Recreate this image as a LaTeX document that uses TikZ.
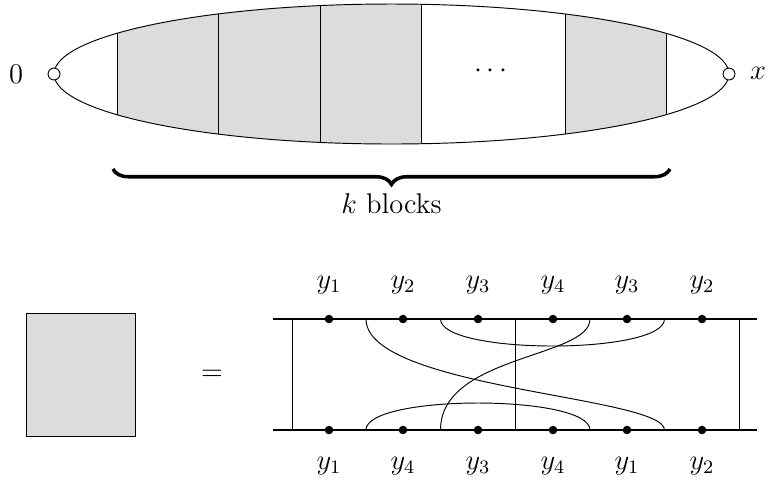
\documentclass[tikz,border=0pt]{standalone}
\usepackage{amsmath,amssymb}
\usepackage{xcolor}
\usepackage{tikz}
\usetikzlibrary{positioning,calc,decorations.pathreplacing}
\definecolor{Shade}{HTML}{DCDCDC}
\tikzset{
  blockfill/.style={fill=Shade},
  rail/.style={line width=.45pt},
  site/.style={circle,fill=black,inner sep=0pt,minimum size=3.6pt},
  endpt/.style={circle,draw,fill=white,inner sep=0pt,minimum size=5pt,line width=.4pt},
  kbrace/.style={decorate,decoration={brace,mirror,amplitude=6.5pt},line width=1.5pt},
  lbl/.style={inner sep=1pt}
}

\begin{document}
\begin{tikzpicture}[x=0.0148cm,y=-0.0148cm,line width=.4pt,font=\large]
  \path[use as bounding box] (0,0) rectangle (770,481);
  \coordinate (c) at (391.5,74);
  \begin{scope}
    \clip (c) ellipse [x radius=4.995cm, y radius=1.036cm];
    \fill[blockfill] (117,0) rectangle (421,150);
    \fill[blockfill] (565,0) rectangle (666,150);
    \foreach \x in {117,218,320,421,565,666}
      \draw (\x,0) -- (\x,150);
  \end{scope}
  \draw (c) ellipse [x radius=4.995cm, y radius=1.036cm];
  \node[endpt] (zero) at (54,74) {};
  \node[endpt] (end) at (729,74) {};
  \node[lbl] (zerolbl) at (16,74) {$0$};
  \node[lbl] (endlbl) at (758,73) {$x$};
  \node[lbl] (gap) at (493,71) {$\cdots$};
  \coordinate (braceL) at (113,169);
  \coordinate (braceR) at (670,169);
  \draw[kbrace] (braceL) -- (braceR);
  \node[lbl] (count) at (391.5,204) {$k$ blocks};

  \draw[blockfill] (26,313) rectangle (135,436);
  \node[lbl] (eq) at (212,375) {$=$};

  \coordinate (tl) at (273,319);
  \coordinate (tr) at (757,319);
  \coordinate (bl) at (273,430);
  \coordinate (br) at (757,430);
  \draw[rail] (tl) -- (tr);
  \draw[rail] (bl) -- (br);
  \foreach \i/\x in {1/329,2/403,3/478,4/553,5/627,6/702}{
    \coordinate (t\i) at (\x,319);
    \coordinate (b\i) at (\x,430);
  }
  \draw (292,319) -- (292,430);
  \draw ($(t3)!.5!(t4)$) -- ($(b3)!.5!(b4)$);
  \draw (739,319) -- (739,430);
  \draw ($(t2)!.5!(t3)$) .. controls +(0,36) and +(0,36) .. ($(t5)!.5!(t6)$);
  \draw ($(b1)!.5!(b2)$) .. controls +(0,-36) and +(0,-36) .. ($(b4)!.5!(b5)$);
  \draw ($(t1)!.5!(t2)$) .. controls +(0,70) and +(0,-34) .. ($(b5)!.5!(b6)$);
  \draw ($(b2)!.5!(b3)$) .. controls +(0,-75) and +(0,39) .. ($(t4)!.5!(t5)$);
  \foreach \i in {1,...,6}{
    \node[site] (dt\i) at (t\i) {};
    \node[site] (db\i) at (b\i) {};
  }
  \foreach \i/\x/\s in {1/329/1,2/403/2,3/478/3,4/553/4,5/627/3,6/702/2}
    \node[lbl] (ut\i) at (\x,285) {$y_{\s}$};
  \foreach \i/\x/\s in {1/329/1,2/403/4,3/478/3,4/553/4,5/627/1,6/702/2}
    \node[lbl] (ub\i) at (\x,466) {$y_{\s}$};
\end{tikzpicture}
\end{document}
